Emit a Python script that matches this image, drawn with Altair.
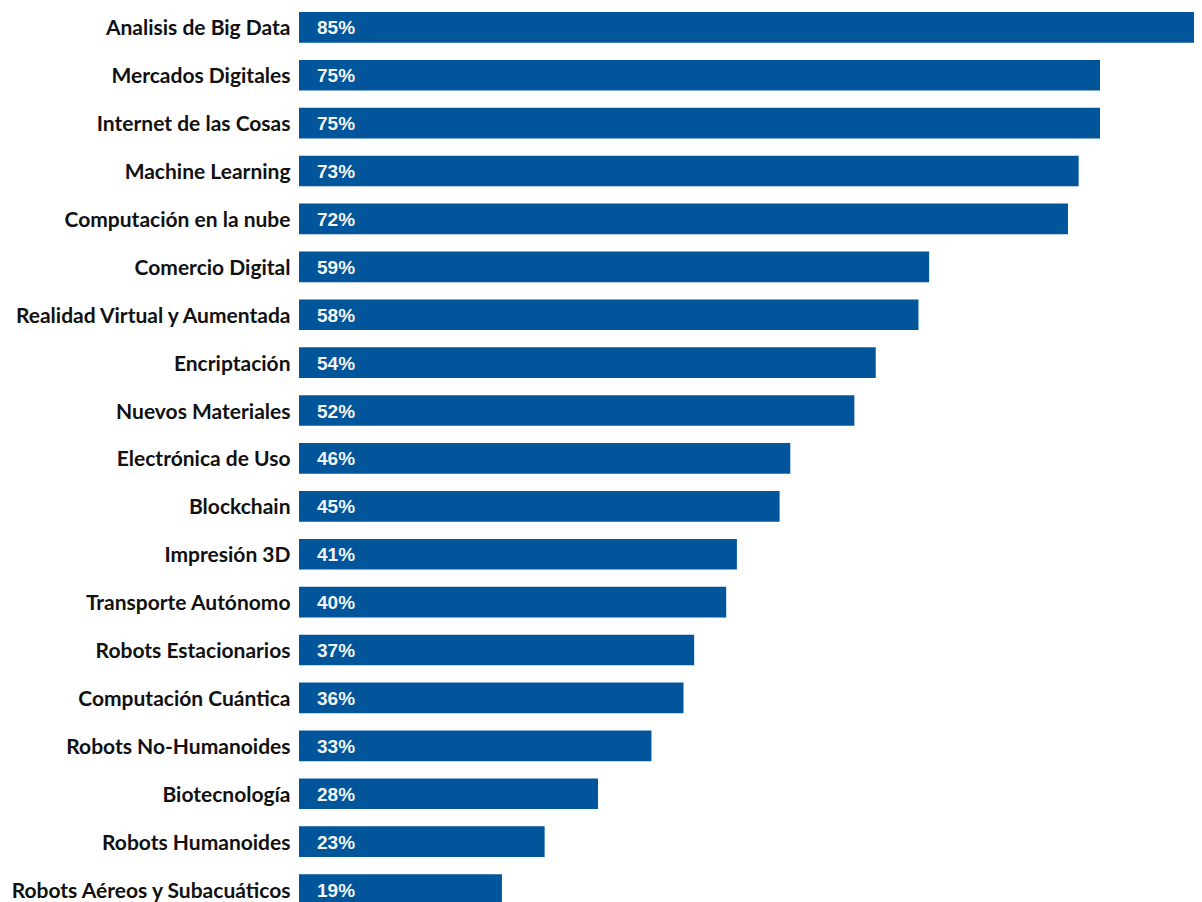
import altair as alt
import pandas as pd

categories = [
    "Analisis de Big Data", "Mercados Digitales", "Internet de las Cosas",
    "Machine Learning", "Computación en  la nube", "Comercio Digital",
    "Realidad Virtual y Aumentada", "Encriptación", "Nuevos Materiales",
    "Electrónica de Uso", "Blockchain", "Impresión 3D", "Transporte Autónomo",
    "Robots Estacionarios", "Computación Cuántica", "Robots No-Humanoides",
    "Biotecnología", "Robots Humanoides", "Robots Aéreos y Subacuáticos",
]
values = [85, 75, 75, 73, 72, 59, 58, 54, 52, 46, 45, 41, 40, 37, 36, 33, 28, 23, 19]
value_labels = [f"{v}%" for v in values]

df = pd.DataFrame({"cat": categories, "val": values, "lab": value_labels})

LEFT = 291
W = 1186 - LEFT
STEP = 47.9
FULL = STEP * (len(categories) - 0.36)
H = 896

y = alt.Y(
    "cat:N",
    sort=categories,
    scale=alt.Scale(paddingInner=0.36, paddingOuter=0, range=[0, FULL]),
    axis=alt.Axis(
        title=None, domain=False, ticks=False, grid=False,
        labelFont="Lato", labelFontWeight="bold", labelFontSize=21,
        labelColor="#111111", labelPadding=9, labelLimit=320, labelOffset=2,
    ),
)

bars = alt.Chart(df).mark_bar(color="#00559B", clip=True).encode(
    x=alt.X("val:Q", scale=alt.Scale(domain=[0, W / 10.68]), axis=None),
    y=y,
)

texts = alt.Chart(df).mark_text(
    align="left", baseline="middle", dx=18, dy=1, font="Liberation Sans",
    fontWeight="bold", fontSize=19, color="#F4F4F4",
).encode(
    x=alt.value(0),
    y=y,
    text="lab:N",
)

chart = alt.layer(bars, texts).properties(
    width=W, height=H,
    autosize=alt.AutoSizeParams(type="none"),
    padding={"left": LEFT, "top": 4, "right": 0, "bottom": 0},
    background="white",
).configure_view(stroke=None)

chart.save("out.html", embed_options={"renderer": "svg", "actions": False})
